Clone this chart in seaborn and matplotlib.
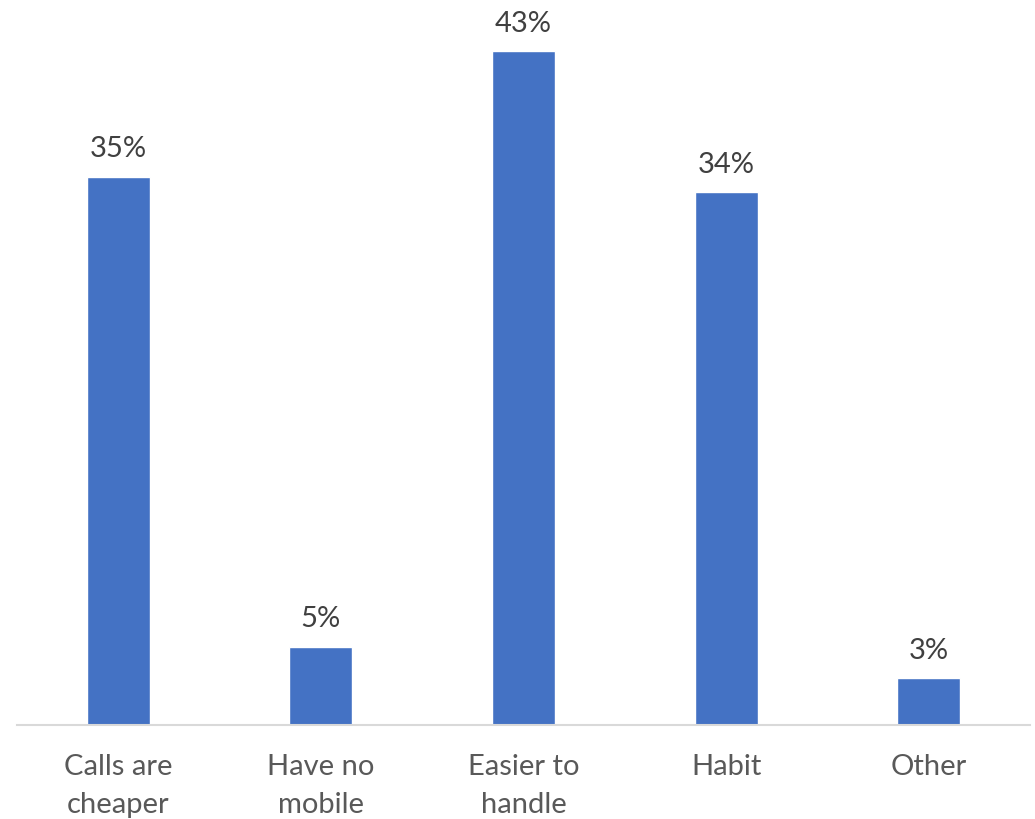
import matplotlib
matplotlib.use("Agg")
import matplotlib.pyplot as plt
import seaborn as sns
import pandas as pd

categories = ["Calls are\ncheaper", "Have no\nmobile", "Easier to\nhandle", "Habit", "Other"]
shares = [35, 5, 43, 34, 3]
value_labels = ["35%", "5%", "43%", "34%", "3%"]

df = pd.DataFrame({"reason": categories, "share": shares})

sns.set_theme(style="white")
plt.rcParams["font.family"] = ["Lato", "DejaVu Sans"]

fig = plt.figure(figsize=(10.35, 8.2), dpi=100)
ax = fig.add_axes([17 / 1035, 94 / 820, 1013 / 1035, 705 / 820])

sns.barplot(data=df, x="reason", y="share", color="#4472C4", width=0.31,
            saturation=1, ax=ax)

ax.set_xlim(-0.5, 4.5)
ax.set_ylim(0, 45)

for patch, txt in zip(ax.patches, value_labels):
    ax.annotate(txt, (patch.get_x() + patch.get_width() / 2, patch.get_height()),
                xytext=(0, 11), textcoords="offset points", ha="center", va="bottom",
                fontsize=21, color="#404040")

for side in ["top", "right", "left"]:
    ax.spines[side].set_visible(False)
ax.spines["bottom"].set_color("#d9d9d9")
ax.spines["bottom"].set_linewidth(1.5)

ax.set_yticks([])
ax.set_xlabel("")
ax.set_ylabel("")
ax.tick_params(axis="x", length=0, pad=20, labelsize=21, labelcolor="#595959")
for lbl in ax.get_xticklabels():
    lbl.set_linespacing(1.6)

fig.savefig("out.png", dpi=100, facecolor="white")
